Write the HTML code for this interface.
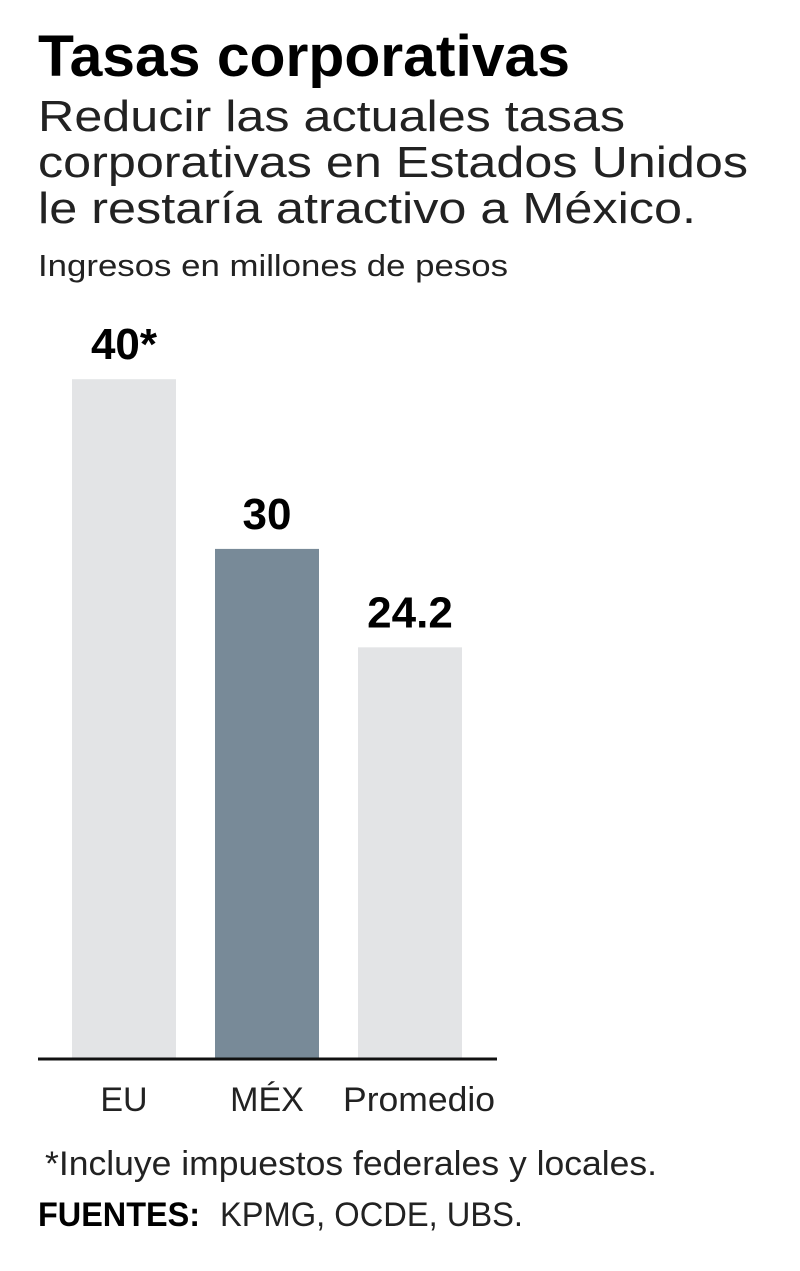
<!DOCTYPE html>
<html><head><meta charset="utf-8"><style>
html,body{margin:0;padding:0;background:#fff;}
svg{display:block;font-family:"Liberation Sans",sans-serif;}
</style></head><body>
<svg width="800" height="1271" viewBox="0 0 800 1271">
<text x="38" y="76" font-size="58" font-weight="bold" textLength="532" lengthAdjust="spacingAndGlyphs">Tasas corporativas</text>
<g font-size="44" fill="#222">
<text x="38" y="131" textLength="587" lengthAdjust="spacingAndGlyphs">Reducir las actuales tasas</text>
<text x="38" y="177" textLength="710" lengthAdjust="spacingAndGlyphs">corporativas en Estados Unidos</text>
<text x="38" y="223" textLength="658" lengthAdjust="spacingAndGlyphs">le restaría atractivo a México.</text>
</g>
<text x="38" y="276" font-size="31" fill="#222" textLength="470" lengthAdjust="spacingAndGlyphs">Ingresos en millones de pesos</text>
<g id="bars"></g>
<line x1="38" y1="1059" x2="497" y2="1059" stroke="#111" stroke-width="3"/>
<text x="45" y="1175" font-size="34" fill="#222" textLength="612" lengthAdjust="spacingAndGlyphs">*Incluye impuestos federales y locales.</text>
<text x="38" y="1226" font-size="34" font-weight="bold" textLength="162" lengthAdjust="spacingAndGlyphs">FUENTES:</text>
<text x="220" y="1226" font-size="34" fill="#222" textLength="303" lengthAdjust="spacingAndGlyphs">KPMG, OCDE, UBS.</text>
</svg>
<script>
const categories = ["EU", "MÉX", "Promedio"];
const values = [40, 30, 24.2];
const valueLabels = ["40*", "30", "24.2"];
const barColors = ["#e3e4e6", "#788a98", "#e3e4e6"];
const NS = "http://www.w3.org/2000/svg";
const baseY = 1058, pxPerUnit = 16.97;
const y = v => baseY - v * pxPerUnit;
const x = i => 72 + i * 143;
const bw = 104;
const g = document.getElementById("bars");
categories.forEach((c, i) => {
  const r = document.createElementNS(NS, "rect");
  r.setAttribute("x", x(i)); r.setAttribute("y", y(values[i]));
  r.setAttribute("width", bw); r.setAttribute("height", baseY - y(values[i]));
  r.setAttribute("fill", barColors[i]);
  
  
  g.appendChild(r);
  const t = document.createElementNS(NS, "text");
  t.setAttribute("x", x(i) + bw / 2); t.setAttribute("y", y(values[i]) - 20);
  t.setAttribute("text-anchor", "middle"); t.setAttribute("font-size", "44"); t.setAttribute("font-weight", "bold");
  t.textContent = valueLabels[i];
  
  
  g.appendChild(t);
  const l = document.createElementNS(NS, "text");
  l.setAttribute("x", x(i) + bw / 2 + (i === 2 ? 9 : 0)); l.setAttribute("y", 1111);
  l.setAttribute("text-anchor", "middle"); l.setAttribute("font-size", "34"); l.setAttribute("fill", "#222");
  if (i === 2) { l.setAttribute("textLength", "152"); l.setAttribute("lengthAdjust", "spacingAndGlyphs"); }
  l.textContent = c;
  
  
  g.appendChild(l);
});
</script>
</body></html>
